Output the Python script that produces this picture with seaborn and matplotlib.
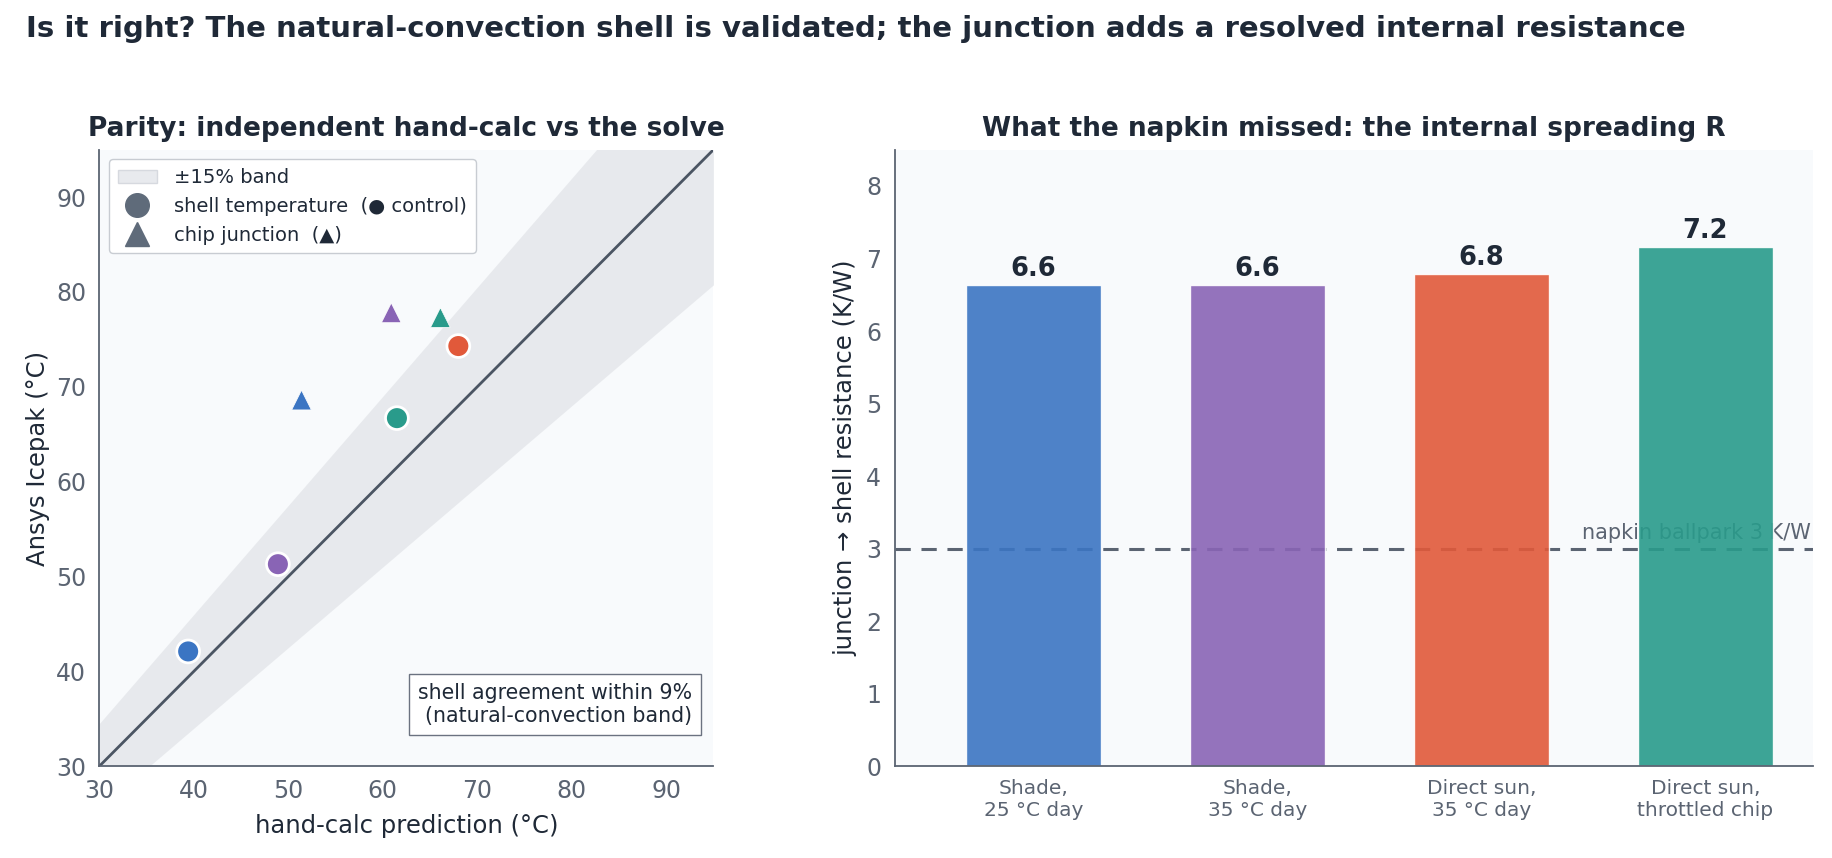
import matplotlib
matplotlib.use("Agg")
import matplotlib.pyplot as plt
import seaborn as sns
import numpy as np
import pandas as pd
from matplotlib.lines import Line2D
from matplotlib.patches import Patch

# ---------------- data ----------------
scenarios = ["Shade,\n25 °C day", "Shade,\n35 °C day", "Direct sun,\n35 °C day", "Direct sun,\nthrottled chip"]
colors = ["#3b75c3", "#8964b5", "#e1593a", "#299b8b"]

shell_hand = [39.4, 48.9, 68.0, 61.5]
shell_icepak = [42.1, 51.3, 74.3, 66.7]

junc_scen = ["Shade,\n25 °C day", "Shade,\n35 °C day", "Direct sun,\nthrottled chip"]
junc_hand = [51.4, 60.9, 66.1]
junc_icepak = [68.6, 77.8, 77.3]

r_internal = [6.63, 6.63, 6.79, 7.16]
r_labels = ["6.6", "6.6", "6.8", "7.2"]
napkin_R = 3.0
band_frac = 0.15

# ---------------- style ----------------
sns.set_style("white")
plt.rcParams["font.family"] = ["DejaVu Sans"]
TXT = "#1f2937"
GRAY = "#5b6472"
FACE = "#f8fafc"

fig = plt.figure(figsize=(18.33, 8.58), dpi=100)
fig.patch.set_facecolor("white")
ax1 = fig.add_axes([0.0542, 0.107, 0.335, 0.7185])
ax2 = fig.add_axes([0.488, 0.107, 0.501, 0.7185])

pal = dict(zip(scenarios, colors))

# ---------------- left: parity ----------------
ax1.set_facecolor(FACE)
xx = np.linspace(30, 95, 200)
ax1.fill_between(xx, xx * (1 - band_frac), xx * (1 + band_frac), color="#e5e7eb", alpha=0.85, zorder=1, linewidth=0)
ax1.plot(xx, xx, color="#4b5563", lw=2, zorder=2)

df_s = pd.DataFrame({"x": shell_hand, "y": shell_icepak, "s": scenarios})
df_j = pd.DataFrame({"x": junc_hand, "y": junc_icepak, "s": junc_scen})
sns.scatterplot(data=df_s, x="x", y="y", hue="s", palette=pal, marker="o", s=270,
                edgecolor="white", linewidth=2, legend=False, ax=ax1, zorder=4)
sns.scatterplot(data=df_j, x="x", y="y", hue="s", palette=pal, marker="^", s=200,
                edgecolor="white", linewidth=0.5, legend=False, ax=ax1, zorder=4)

ax1.set_xlim(30, 95)
ax1.set_ylim(30, 95)
ax1.set_xticks(range(30, 100, 10))
ax1.set_yticks(range(30, 100, 10))
ax1.set_xlabel("hand-calc prediction (°C)", fontsize=17.5, color=TXT, labelpad=8)
ax1.set_ylabel("Ansys Icepak (°C)", fontsize=17.5, color=TXT)
ax1.set_title("Parity: independent hand-calc vs the solve", fontsize=19, fontweight="bold", color=TXT, pad=10)

handles = [
    Patch(facecolor="#e5e7eb", edgecolor="#d1d5db", alpha=0.85, label="±15% band"),
    Line2D([0], [0], marker="o", color="none", markerfacecolor="#5f6b7a", markeredgecolor="#5f6b7a", markersize=17,
           label="shell temperature  (● control)"),
    Line2D([0], [0], marker="^", color="none", markerfacecolor="#5f6b7a", markeredgecolor="#5f6b7a", markersize=17,
           label="chip junction  (▲)"),
]
leg = ax1.legend(handles=handles, loc="upper left", fontsize=14, frameon=True, fancybox=True,
                 borderpad=0.45, labelspacing=0.5, handletextpad=0.9, handlelength=2.0, framealpha=1)
leg.get_frame().set_edgecolor("#c8ccd2")
for t in leg.get_texts():
    t.set_color(TXT)

ax1.text(0.965, 0.065, "shell agreement within 9%\n(natural-convection band)", transform=ax1.transAxes,
         ha="right", va="bottom", fontsize=14.8, color=TXT, zorder=6,
         bbox=dict(boxstyle="square,pad=0.45", facecolor="white", edgecolor="#6b7280", lw=1))

# ---------------- right: bars ----------------
ax2.set_facecolor(FACE)
ax2.axhline(napkin_R, color=GRAY, lw=2.2, ls=(0, (5, 3.5)), zorder=1)
ax2.text(3.47, napkin_R + 0.08, "napkin ballpark 3 K/W", ha="right", va="bottom", fontsize=15,
         color=GRAY, zorder=1)
df_b = pd.DataFrame({"s": scenarios, "r": r_internal})
sns.barplot(data=df_b, x="s", y="r", hue="s", palette=pal, width=0.6, legend=False, ax=ax2,
            zorder=2, alpha=0.9, saturation=1)
for i, (v, lab) in enumerate(zip(r_internal, r_labels)):
    ax2.text(i, v + 0.04, lab, ha="center", va="bottom", fontsize=18.5, fontweight="bold", color=TXT, zorder=5)
ax2.set_xlim(-0.62, 3.48)
ax2.set_ylim(0, 8.5)
ax2.set_yticks(range(0, 9))
ax2.set_xlabel("")
ax2.set_ylabel("junction → shell resistance (K/W)", fontsize=17.5, color=TXT, labelpad=6)
ax2.set_title("What the napkin missed: the internal spreading R", fontsize=19, fontweight="bold", color=TXT, pad=10)

for ax in (ax1, ax2):
    sns.despine(ax=ax)
    for sp in ("left", "bottom"):
        ax.spines[sp].set_color(GRAY)
        ax.spines[sp].set_linewidth(1.3)
    ax.tick_params(axis="both", colors=GRAY, length=6, width=1.2, direction="out")
    ax.tick_params(axis="y", labelsize=17)
ax1.tick_params(axis="x", labelsize=17)
ax2.tick_params(axis="x", labelsize=14.5)

fig.text(0.014, 0.966, "Is it right? The natural-convection shell is validated; the junction adds a resolved internal resistance",
         ha="left", va="center", fontsize=21, fontweight="bold", color=TXT)

fig.savefig("out.png", dpi=100, facecolor="white")
